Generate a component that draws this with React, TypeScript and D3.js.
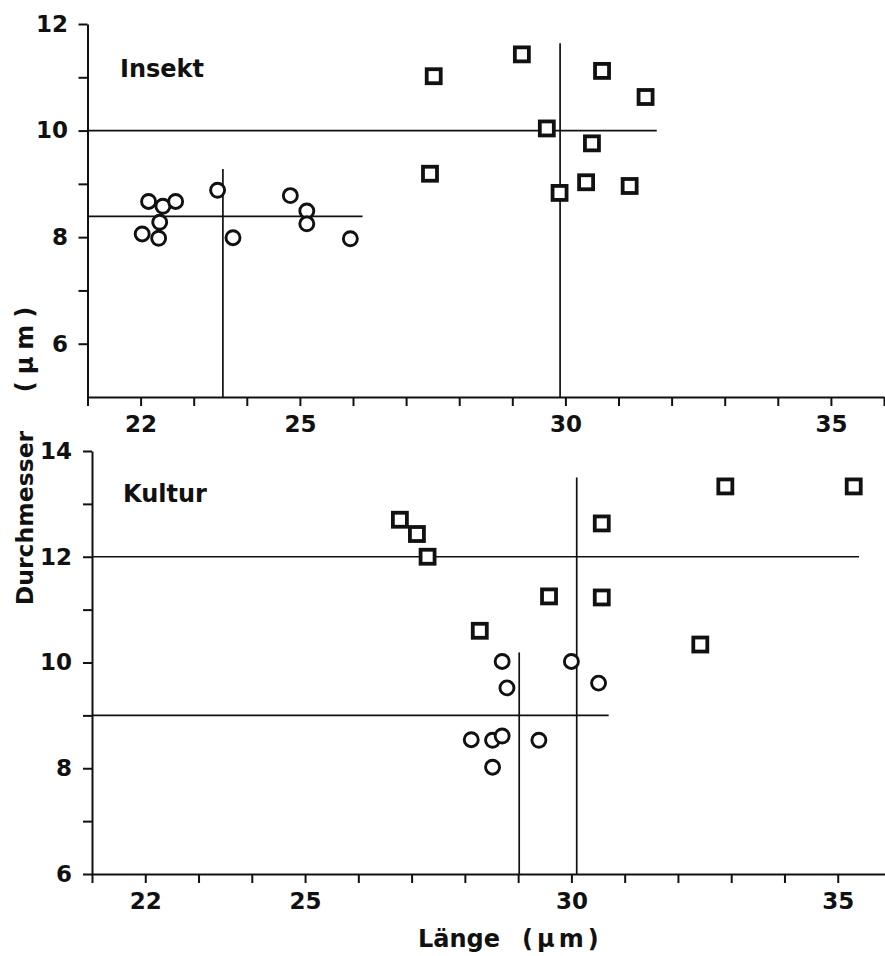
import React, { useEffect, useRef } from "react";
import { select, scaleLinear, axisLeft, axisBottom, range } from "d3";

// Insekt panel (top)
const insektCircleX = [22.03, 22.15, 22.34, 22.36, 22.42, 22.66, 23.45, 23.74, 24.82, 25.13, 25.13, 25.95];
const insektCircleY = [8.06, 8.67, 7.98, 8.28, 8.58, 8.67, 8.88, 7.99, 8.78, 8.49, 8.25, 7.97];
const insektSquareX = [27.52, 29.18, 30.69, 31.51, 29.65, 30.5, 27.45, 29.89, 30.39, 31.21];
const insektSquareY = [11.02, 11.43, 11.12, 10.63, 10.04, 9.76, 9.19, 8.83, 9.03, 8.96];
// mean lines: horizontal (y value, right end) and vertical (x value, top end)
const insektHLineY = [8.39, 10.0];
const insektHLineEnd = [26.18, 31.72];
const insektVLineX = [23.55, 29.9];
const insektVLineTop = [9.28, 11.64];

// Kultur panel (bottom)
const kulturCircleX = [28.7, 28.79, 30.0, 30.51, 28.12, 28.52, 28.7, 29.39, 28.52];
const kulturCircleY = [10.02, 9.52, 10.02, 9.61, 8.54, 8.53, 8.61, 8.53, 8.02];
const kulturSquareX = [26.78, 27.1, 27.3, 30.57, 29.58, 30.57, 28.28, 32.89, 35.3, 32.42];
const kulturSquareY = [12.7, 12.43, 12.0, 12.63, 11.25, 11.23, 10.6, 13.33, 13.33, 10.34];
const kulturHLineY = [9.0, 12.0];
const kulturHLineEnd = [30.7, 35.4];
const kulturVLineX = [29.02, 30.1];
const kulturVLineTop = [10.19, 13.5];

const xTicks = range(21, 37);
const xTickLabels = [22, 25, 30, 35];

const W = 885;
const H = 956;
const ink = "#111";
const font = "'DejaVu Sans', sans-serif";

type Panel = {
  name: string;
  xRange: [number, number];
  yDomain: [number, number];
  yRange: [number, number];
  yTicks: number[];
  yLabels: number[];
  cx: number[];
  cy: number[];
  sx: number[];
  sy: number[];
  hY: number[];
  hEnd: number[];
  vX: number[];
  vTop: number[];
  titlePos: [number, number];
  labelEnd: number;
};

const panels: Panel[] = [
  {
    name: "Insekt",
    xRange: [87.5, 884],
    yDomain: [5, 12],
    yRange: [397, 24],
    yTicks: range(6, 13),
    yLabels: [6, 8, 10, 12],
    cx: insektCircleX,
    cy: insektCircleY,
    sx: insektSquareX,
    sy: insektSquareY,
    hY: insektHLineY,
    hEnd: insektHLineEnd,
    vX: insektVLineX,
    vTop: insektVLineTop,
    titlePos: [120, 77],
    labelEnd: 68,
  },
  {
    name: "Kultur",
    xRange: [92, 891],
    yDomain: [6, 14],
    yRange: [874, 451],
    yTicks: range(6, 15),
    yLabels: [6, 8, 10, 12, 14],
    cx: kulturCircleX,
    cy: kulturCircleY,
    sx: kulturSquareX,
    sy: kulturSquareY,
    hY: kulturHLineY,
    hEnd: kulturHLineEnd,
    vX: kulturVLineX,
    vTop: kulturVLineTop,
    titlePos: [123, 502],
    labelEnd: 72,
  },
];

function drawPanel(svg: any, p: Panel) {
  const x = scaleLinear().domain([21, 36]).range(p.xRange);
  const y = scaleLinear().domain(p.yDomain).range(p.yRange);
  const x0 = p.xRange[0];
  const g = svg.append("g");

  // axes
  const ax = g
    .append("g")
    .attr("transform", `translate(0, ${y(p.yDomain[0])})`)
    .call(
      axisBottom(x)
        .tickValues(xTicks)
        .tickSize(9)
        .tickSizeOuter(0)
        .tickPadding(10)
        .tickFormat((d: any) => (xTickLabels.includes(d) ? String(d) : ""))
    );
  const ay = g
    .append("g")
    .attr("transform", `translate(${x0}, 0)`)
    .call(
      axisLeft(y)
        .tickValues(p.yTicks)
        .tickSize(9)
        .tickSizeOuter(0)
        .tickPadding(x0 - 9 - p.labelEnd)
        .tickFormat((d: any) => (p.yLabels.includes(d) ? String(d) : ""))
    );
  [ax, ay].forEach((a) => {
    a.selectAll("path, line").attr("stroke", ink).attr("stroke-width", 2);
    a.selectAll("text")
      .attr("fill", ink)
      .style("font-family", font)
      .style("font-weight", "bold")
      .style("font-size", "23px");
  });

  // mean lines
  g.selectAll(".hl")
    .data(p.hY)
    .join("line")
    .attr("x1", x(21))
    .attr("x2", (d: number, i: number) => x(p.hEnd[i]))
    .attr("y1", (d: number) => y(d))
    .attr("y2", (d: number) => y(d))
    .attr("stroke", ink)
    .attr("stroke-width", 1.7);
  g.selectAll(".vl")
    .data(p.vX)
    .join("line")
    .attr("x1", (d: number) => x(d))
    .attr("x2", (d: number) => x(d))
    .attr("y1", y(p.yDomain[0]))
    .attr("y2", (d: number, i: number) => y(p.vTop[i]))
    .attr("stroke", ink)
    .attr("stroke-width", 1.7);

  // markers
  g.selectAll(".sq")
    .data(p.sx)
    .join("rect")
    .attr("x", (d: number) => x(d) - 7)
    .attr("y", (d: number, i: number) => y(p.sy[i]) - 7)
    .attr("width", 14)
    .attr("height", 14)
    .attr("fill", "#fff")
    .attr("stroke", ink)
    .attr("stroke-width", 3.8);
  g.selectAll(".ci")
    .data(p.cx)
    .join("circle")
    .attr("cx", (d: number) => x(d))
    .attr("cy", (d: number, i: number) => y(p.cy[i]))
    .attr("r", 7)
    .attr("fill", "#fff")
    .attr("stroke", ink)
    .attr("stroke-width", 2.9);

  g.append("text")
    .attr("x", p.titlePos[0])
    .attr("y", p.titlePos[1])
    .attr("fill", ink)
    .style("font-family", font)
    .style("font-weight", "bold")
    .style("font-size", "24px")
    .text(p.name);
}

function App() {
  const svgRef = useRef<SVGSVGElement>(null);

  useEffect(() => {
    const svg = select(svgRef.current);
    svg.selectAll("*").remove();
    panels.forEach((p) => drawPanel(svg, p));

    const lbl = (t: string) =>
      svg
        .append("text")
        .attr("fill", ink)
        .style("font-family", font)
        .style("font-weight", "bold")
        .text(t);

    // y axis title, rotated
    lbl("Durchmesser")
      .attr("transform", "translate(33, 518) rotate(-90)")
      .attr("text-anchor", "middle")
      .style("font-size", "23.5px");
    lbl("(µm)")
      .attr("transform", "translate(33, 346) rotate(-90)")
      .attr("text-anchor", "middle")
      .style("letter-spacing", "7px")
      .style("font-size", "24px");

    // x axis title
    lbl("Länge").attr("x", 418).attr("y", 947).style("font-size", "24px");
    lbl("(µm)")
      .attr("x", 522)
      .attr("y", 947)
      .style("letter-spacing", "4px")
      .style("font-size", "24px");
  }, []);

  return (
    <svg
      ref={svgRef}
      width={W}
      height={H}
      style={{ position: "absolute", left: 0, top: 0, background: "#fff" }}
    />
  );
}

export default App;
